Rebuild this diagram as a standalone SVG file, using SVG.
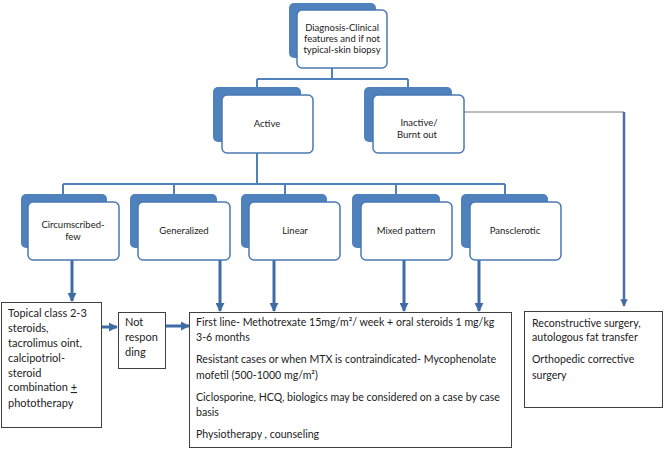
<svg xmlns="http://www.w3.org/2000/svg" width="665" height="450" viewBox="0 0 665 450">
<style>
.back{fill:#4F81BD;}
.front{fill:#FFFFFF;stroke:#4A78B4;stroke-width:1.5;}
.nt{font-family:Lato,"Liberation Sans",sans-serif;font-size:9.5px;fill:#222;text-anchor:middle;}
.box{fill:#FFFFFF;stroke:#404040;stroke-width:1;}
.bt{font-family:Lato,"Liberation Sans",sans-serif;font-size:11px;fill:#222;}
.mt{font-family:Lato,"Liberation Sans",sans-serif;font-size:10.6px;fill:#222;}
.thin{fill:none;stroke:#4F81BD;stroke-width:2;}
.thick{fill:none;stroke:#3F6CA5;stroke-width:3;}
</style>
<defs>
<marker id="ah" viewBox="0 0 10 10" refX="9" refY="5" markerWidth="3" markerHeight="3" orient="auto" markerUnits="strokeWidth">
<path d="M0,0 L10,5 L0,10 z" fill="#3F6CA5"/>
</marker>
</defs>
<rect width="665" height="450" fill="#FFFFFF"/>
<g id="connectors">
<path class="thin" d="M332,68 V79 M257,79 H408 M257,79 V87 M408,79 V87"/>
<path class="thin" d="M257,153 V184 M63,184 H505 M63,184 V194 M174,184 V194 M285,184 V194 M396,184 V194 M505,184 V194"/>
<path d="M464,112 H624" fill="none" stroke="#A6A6A6" stroke-width="1.5"/>
<path d="M624,112 V306" fill="none" stroke="#4F6FA8" stroke-width="2.5" marker-end="url(#ah)"/>
<path class="thick" d="M72,260 V301" marker-end="url(#ah)"/>
<path class="thick" d="M220,260 V311" marker-end="url(#ah)"/>
<path class="thick" d="M274,260 V311" marker-end="url(#ah)"/>
<path class="thick" d="M404,260 V311" marker-end="url(#ah)"/>
<path class="thick" d="M479,260 V311" marker-end="url(#ah)"/>
<path class="thick" d="M102,327 H117" marker-end="url(#ah)"/>
<path class="thick" d="M166,326 H189" marker-end="url(#ah)"/>
</g>
<g id="diagnosis">
<rect class="back" x="289" y="3" width="87" height="55" rx="5"/>
<rect class="front" x="297" y="10" width="90" height="58" rx="5"/>
<text class="nt" x="342" y="31">Diagnosis-Clinical</text>
<text class="nt" x="342" y="42">features and if not</text>
<text class="nt" x="342" y="53">typical-skin biopsy</text>
</g>
<g id="active">
<rect class="back" x="213" y="87" width="88" height="55" rx="5"/>
<rect class="front" x="222" y="95" width="91" height="58" rx="5"/>
<text class="nt" x="267" y="127">Active</text>
</g>
<g id="inactive">
<rect class="back" x="364" y="87" width="88" height="55" rx="5"/>
<rect class="front" x="373" y="95" width="91" height="58" rx="5"/>
<text class="nt" x="419" y="126">Inactive/</text>
<text class="nt" x="417" y="138">Burnt out</text>
</g>
<g id="circumscribed">
<rect class="back" x="21" y="194" width="86" height="54" rx="5"/>
<rect class="front" x="28" y="202" width="91" height="58" rx="5"/>
<text class="nt" x="73" y="228">Circumscribed-</text>
<text class="nt" x="73" y="240">few</text>
</g>
<g id="generalized">
<rect class="back" x="130" y="194" width="87" height="54" rx="5"/>
<rect class="front" x="138" y="202" width="92" height="58" rx="5"/>
<text class="nt" x="184" y="234">Generalized</text>
</g>
<g id="linear">
<rect class="back" x="241" y="194" width="86" height="54" rx="5"/>
<rect class="front" x="249" y="202" width="91" height="58" rx="5"/>
<text class="nt" x="295" y="234">Linear</text>
</g>
<g id="mixed">
<rect class="back" x="352" y="194" width="88" height="54" rx="5"/>
<rect class="front" x="361" y="202" width="91" height="58" rx="5"/>
<text class="nt" x="406" y="234">Mixed pattern</text>
</g>
<g id="pansclerotic">
<rect class="back" x="461" y="194" width="87" height="54" rx="5"/>
<rect class="front" x="470" y="202" width="91" height="58" rx="5"/>
<text class="nt" x="515" y="234">Pansclerotic</text>
</g>
<g id="topical">
<rect class="box" x="1.5" y="302.5" width="100" height="125"/>
<text class="bt" x="8" y="317">Topical class 2-3</text>
<text class="bt" x="8" y="332">steroids,</text>
<text class="bt" x="8" y="347">tacrolimus oint,</text>
<text class="bt" x="8" y="362">calcipotriol-</text>
<text class="bt" x="8" y="377">steroid</text>
<text class="bt" x="8" y="391">combination <tspan text-decoration="underline">+</tspan></text>
<text class="bt" x="8" y="407">phototherapy</text>
</g>
<g id="notresponding">
<rect class="box" x="118.5" y="312.5" width="47" height="56"/>
<text class="bt" x="125" y="326">Not</text>
<text class="bt" x="125" y="341">respon</text>
<text class="bt" x="125" y="356">ding</text>
</g>
<g id="treatment">
<rect class="box" x="189.5" y="312.5" width="322" height="135"/>
<text class="mt" x="196" y="326">First line- Methotrexate 15mg/m²/ week + oral steroids 1 mg/kg</text>
<text class="mt" x="196" y="341">3-6 months</text>
<text class="mt" x="196" y="363">Resistant cases or when MTX is contraindicated- Mycophenolate</text>
<text class="mt" x="196" y="379">mofetil (500-1000 mg/m²)</text>
<text class="mt" x="196" y="401">Ciclosporine, HCQ, biologics may be considered on a case by case</text>
<text class="mt" x="196" y="416">basis</text>
<text class="mt" x="196" y="438">Physiotherapy , counseling</text>
</g>
<g id="surgery">
<rect class="box" x="524.5" y="311.5" width="138" height="96"/>
<text class="mt" x="532" y="327">Reconstructive surgery,</text>
<text class="mt" x="532" y="341">autologous fat transfer</text>
<text class="mt" x="532" y="363">Orthopedic corrective</text>
<text class="mt" x="532" y="379">surgery</text>
</g>
</svg>
